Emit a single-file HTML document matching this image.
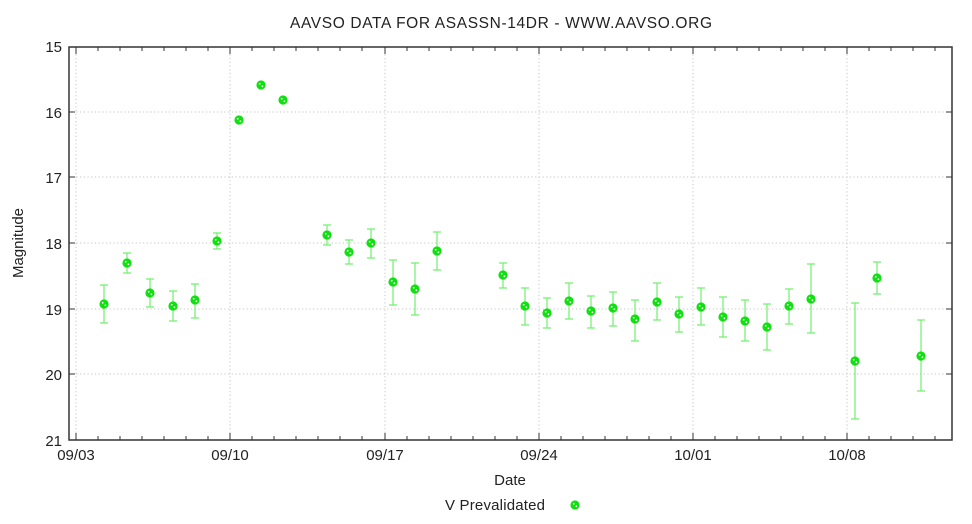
<!DOCTYPE html>
<html><head><style>body{margin:0;background:#fff}svg{display:block}text{font-family:"Liberation Sans",sans-serif;font-size:15px;fill:#222}</style></head>
<body>
<svg width="972" height="524" xmlns="http://www.w3.org/2000/svg">
<defs>
<g id="m"><circle r="4.6" fill="#10e010"/><circle cx="-1.3" cy="-1.2" r="0.9" fill="#fff"/><circle cx="1.4" cy="1.3" r="0.9" fill="#fff"/></g>
</defs>
<text x="501" y="28" text-anchor="middle" style="font-size:15.5px" textLength="422">AAVSO DATA FOR ASASSN-14DR - WWW.AAVSO.ORG</text>
<g stroke="#c4c4c4" stroke-dasharray="1.2,2.5" stroke-width="1">
<line x1="69" x2="952" y1="112" y2="112"/><line x1="69" x2="952" y1="177" y2="177"/><line x1="69" x2="952" y1="243" y2="243"/><line x1="69" x2="952" y1="309" y2="309"/><line x1="69" x2="952" y1="374" y2="374"/>
<line x1="76" x2="76" y1="47" y2="440"/><line x1="230" x2="230" y1="47" y2="440"/><line x1="385" x2="385" y1="47" y2="440"/><line x1="539" x2="539" y1="47" y2="440"/><line x1="693" x2="693" y1="47" y2="440"/><line x1="847" x2="847" y1="47" y2="440"/>
</g>
<g stroke="#333" stroke-width="1">
<path d="M69 112h6M69 177h6M69 243h6M69 309h6M69 374h6M952 112h-6M952 177h-6M952 243h-6M952 309h-6M952 374h-6"/>
<path d="M76 440v-7M230 440v-7M385 440v-7M539 440v-7M693 440v-7M847 440v-7M76 47v7M230 47v7M385 47v7M539 47v7M693 47v7M847 47v7"/>
<path d="M98 440v-4M120 440v-4M142 440v-4M164 440v-4M186 440v-4M208 440v-4M252 440v-4M274 440v-4M296 440v-4M318 440v-4M340 440v-4M362 440v-4M407 440v-4M429 440v-4M451 440v-4M473 440v-4M495 440v-4M517 440v-4M561 440v-4M583 440v-4M605 440v-4M627 440v-4M649 440v-4M671 440v-4M715 440v-4M737 440v-4M759 440v-4M781 440v-4M803 440v-4M825 440v-4M869 440v-4M891 440v-4M913 440v-4M935 440v-4"/>
<path d="M98 47v4M120 47v4M142 47v4M164 47v4M186 47v4M208 47v4M252 47v4M274 47v4M296 47v4M318 47v4M340 47v4M362 47v4M407 47v4M429 47v4M451 47v4M473 47v4M495 47v4M517 47v4M561 47v4M583 47v4M605 47v4M627 47v4M649 47v4M671 47v4M715 47v4M737 47v4M759 47v4M781 47v4M803 47v4M825 47v4M869 47v4M891 47v4M913 47v4M935 47v4"/>
</g>
<rect x="69" y="47" width="883" height="393" fill="none" stroke="#333" stroke-width="1.5"/>
<g text-anchor="end"><text x="62" y="52">15</text><text x="62" y="118">16</text><text x="62" y="183">17</text><text x="62" y="249">18</text><text x="62" y="315">19</text><text x="62" y="380">20</text><text x="62" y="446">21</text></g>
<g text-anchor="middle"><text x="76" y="460">09/03</text><text x="230" y="460">09/10</text><text x="385" y="460">09/17</text><text x="539" y="460">09/24</text><text x="693" y="460">10/01</text><text x="847" y="460">10/08</text>
<text x="510" y="485">Date</text></g>
<text transform="translate(23,243) rotate(-90)" text-anchor="middle">Magnitude</text>
<text x="445" y="510" textLength="100">V Prevalidated</text>
<use href="#m" x="575" y="505"/>
<g stroke="#70f070" stroke-width="1.2" fill="none" id="eb"></g>
<g id="pts"></g>
<script>
var d=[[104,304,285,323],[127,263,253,273],[150,293,279,307],[173,306,291,321],[195,300,284,318],[217,241,233,249],[239,120,120,120],[261,85,85,85],[283,100,100,100],[327,235,225,245],[349,252,240,264],[371,243,229,258],[393,282,260,305],[415,289,263,315],[437,251,232,270],[503,275,263,288],[525,306,288,325],[547,313,298,328],[569,301,283,319],[591,311,296,328],[613,308,292,326],[635,319,300,341],[657,302,283,320],[679,314,297,332],[701,307,288,325],[723,317,297,337],[745,321,300,341],[767,327,304,350],[789,306,289,324],[811,299,264,333],[855,361,303,419],[877,278,262,294],[921,356,320,391]];
var ns="http://www.w3.org/2000/svg",eb=document.getElementById('eb'),pts=document.getElementById('pts');
d.forEach(function(p){if(p[3]>p[2]){var e=document.createElementNS(ns,'path');e.setAttribute('d','M'+p[0]+' '+p[2]+'V'+p[3]+'M'+(p[0]-4)+' '+p[2]+'h8M'+(p[0]-4)+' '+p[3]+'h8');eb.appendChild(e);}
var u=document.createElementNS(ns,'use');u.setAttribute('href','#m');u.setAttribute('x',p[0]);u.setAttribute('y',p[1]);pts.appendChild(u);});
</script>
</svg>
</body></html>
